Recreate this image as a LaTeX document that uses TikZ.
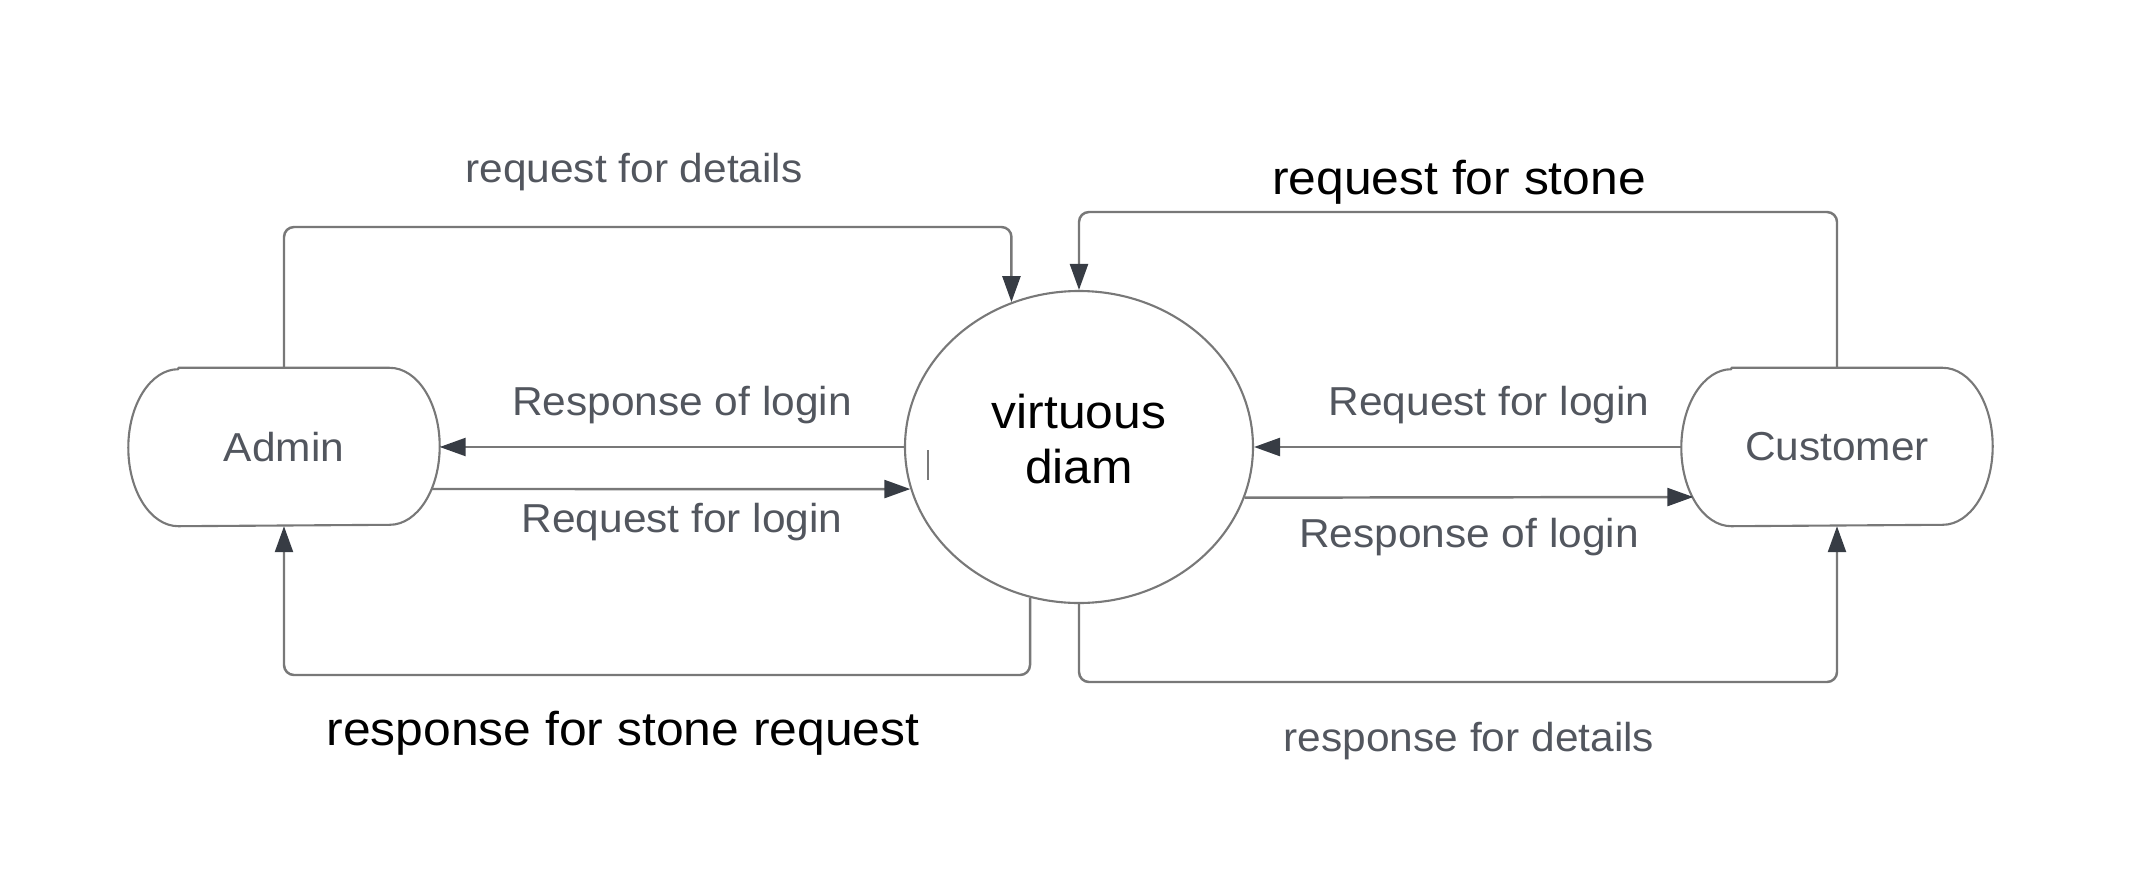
\documentclass[tikz,border=0pt]{standalone}
\usepackage{fontspec}
\setmainfont[FakeStretch=1.05]{Liberation Sans}
\usetikzlibrary{shapes.geometric,arrows.meta}
\definecolor{linegray}{RGB}{120,120,120}
\definecolor{textgray}{RGB}{82,86,94}
\definecolor{tipgray}{RGB}{55,60,68}
\begin{document}
\begin{tikzpicture}[
		flow/.style={draw=linegray,line width=0.7pt,rounded corners=1mm,-{Triangle[length=2.6mm,width=1.8mm,color=tipgray]}},
		small/.style={text=textgray,font=\fontsize{11.5}{13}\selectfont},
		big/.style={text=black,font=\fontsize{13.5}{15.5}\selectfont},
		term/.style={minimum width=3.1cm,minimum height=1.57cm,inner sep=0pt}
	]
	\useasboundingbox (0,0) rectangle (21.32,-8.8);
	\node[term,small] (admin) at (2.84,-4.47) {Admin};
	\node[term,small] (customer) at (18.37,-4.47) {Customer};
	\node[ellipse,draw=linegray,line width=0.6pt,minimum width=3.48cm,minimum height=3.12cm,inner sep=0pt,
		label={[big,align=center,yshift=0.8mm]center:virtuous\\diam}] (diam) at (10.79,-4.47) {};
	\foreach \n in {admin,customer}
		\draw[linegray,line width=0.6pt,line join=round] ([xshift=5mm]\n.north west) -- ([xshift=-5mm]\n.north east)
			arc[start angle=90,end angle=-90,x radius=5mm,y radius=7.85mm]
			-- ([xshift=5mm]\n.south west)
			arc[start angle=270,end angle=90,x radius=5mm,y radius=7.85mm] -- cycle;
	\draw[linegray,line width=0.5pt] (9.28,-4.50) -- (9.28,-4.80);

	\draw[flow] (admin.north) -- (admin.north |- 0,-2.27) -| (diam.115);
	\draw[flow] (customer.north) -- (customer.north |- 0,-2.12) -| (diam.north);
	\draw[flow] (diam.252) -- (diam.252 |- 0,-6.75) -| (admin.south);
	\draw[flow] (diam.south) -- (diam.south |- 0,-6.82) -| (customer.south);
	\draw[flow] (diam.west) -- (admin.east);
	\draw[flow] ([xshift=-0.8mm,yshift=-4.2mm]admin.east) -- (diam.194);
	\draw[flow] (customer.west) -- (diam.east);
	\draw[flow] (diam.-17) -- ([xshift=1.2mm,yshift=-5mm]customer.west);

	\node[small] (detailsreq) at (6.34,-1.72) {request for details};
	\node[big] (stonereq) at (14.59,-1.82) {request for stone};
	\node[small] (loginresp1) at (6.82,-4.05) {Response of login};
	\node[small] (loginreq1) at (6.82,-5.22) {Request for login};
	\node[small] (loginreq2) at (14.89,-4.05) {Request for login};
	\node[small] (loginresp2) at (14.69,-5.37) {Response of login};
	\node[big] (stoneresp) at (6.23,-7.33) {response for stone request};
	\node[small] (detailsresp) at (14.69,-7.41) {response for details};
\end{tikzpicture}
\end{document}
